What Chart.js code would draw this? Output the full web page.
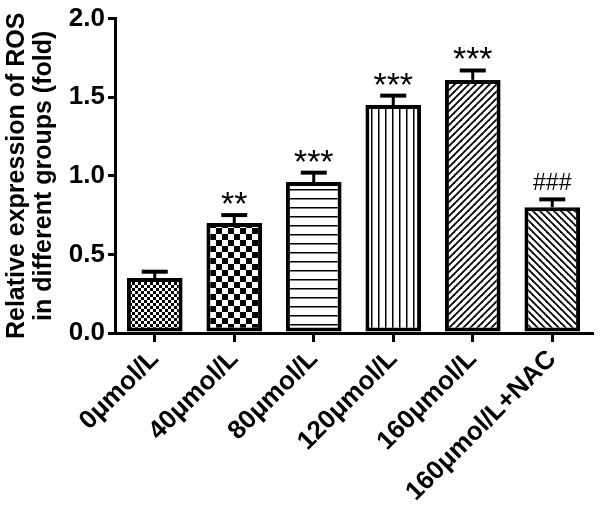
<!DOCTYPE html>
<html>
<head>
<meta charset="utf-8">
<script src="https://cdn.jsdelivr.net/npm/chart.js@4"></script>
<style>
html, body { margin: 0; padding: 0; background: #fff; }
</style>
</head>
<body>
<canvas id="graficoROS" width="600" height="506"></canvas>
<script>
var grupos   = ['0μmol/L', '40μmol/L', '80μmol/L', '120μmol/L', '160μmol/L', '160μmol/L+NAC'];
var medias   = [0.35, 0.70, 0.96, 1.45, 1.61, 0.80];
var errores  = [0.04, 0.05, 0.06, 0.06, 0.06, 0.05];
var marcas   = ['', '**', '***', '***', '***', '###'];
var tituloY  = ['Relative expression of ROS', 'in different groups (fold)'];
var FUENTE   = '"Liberation Sans", Arial, sans-serif';

/* ── patrones de relleno (uno por barra) ── */
function patron(tipo) {
    var c = document.createElement('canvas');
    var g = c.getContext('2d');
    var s = 6;
    if (tipo === 'grueso') s = 12;
    if (tipo === 'horiz') s = 9;
    if (tipo === 'vert') s = 7;
    if (tipo === 'diagA' || tipo === 'diagB') s = 7;
    c.width = s; c.height = s;
    g.fillStyle = '#fff';
    g.fillRect(0, 0, s, s);
    g.fillStyle = '#000';
    g.strokeStyle = '#000';
    if (tipo === 'fino' || tipo === 'grueso') {
        g.fillRect(0, 0, s / 2, s / 2);
        g.fillRect(s / 2, s / 2, s / 2, s / 2);
    } else if (tipo === 'horiz') {
        g.fillRect(0, 0, s, 1.5);
    } else if (tipo === 'vert') {
        g.fillRect(0, 0, 1.5, s);
    } else {
        g.lineWidth = 1.8;
        var segs = tipo === 'diagA'
            ? [[-1, s + 1, s + 1, -1], [-1, 1, 1, -1], [s - 1, s + 1, s + 1, s - 1]]
            : [[-1, -1, s + 1, s + 1], [-1, s - 1, 1, s + 1], [s - 1, -1, s + 1, 1]];
        segs.forEach(function (p) {
            g.beginPath(); g.moveTo(p[0], p[1]); g.lineTo(p[2], p[3]); g.stroke();
        });
    }
    return g.createPattern(c, 'repeat');
}

var rellenos = ['fino', 'grueso', 'horiz', 'vert', 'diagA', 'diagB'].map(patron);

/* ── barras de error (solo hacia arriba) y marcas de significancia ── */
var pluginError = {
    id: 'errorYMarcas',
    afterDatasetsDraw: function (chart) {
        var ctx = chart.ctx;
        var y = chart.scales.y;
        var meta = chart.getDatasetMeta(0);
        ctx.save();
        ctx.strokeStyle = '#000';
        ctx.fillStyle = '#000';
        meta.data.forEach(function (bar, i) {
            var yTop = y.getPixelForValue(medias[i] + errores[i]);
            ctx.lineWidth = 3;
            ctx.beginPath();
            ctx.moveTo(bar.x, bar.y);
            ctx.lineTo(bar.x, yTop);
            ctx.stroke();
            ctx.lineWidth = 4;
            ctx.beginPath();
            ctx.moveTo(bar.x - 13, yTop);
            ctx.lineTo(bar.x + 13, yTop);
            ctx.stroke();
            if (marcas[i]) {
                ctx.textAlign = 'center';
                ctx.textBaseline = 'alphabetic';
                if (marcas[i].charAt(0) === '*') {
                    ctx.font = '34px ' + FUENTE;
                    ctx.fillText(marcas[i], bar.x, yTop);
                } else {
                    ctx.font = '23px ' + FUENTE;
                    ctx.fillText(marcas[i], bar.x, yTop - 9);
                }
            }
        });
        ctx.restore();
    }
};

var ctx = document.getElementById('graficoROS');
var chartROS = new Chart(ctx, {
    type: 'bar',
    data: {
        labels: grupos,
        datasets: [{
            data: medias,
            backgroundColor: rellenos,
            borderColor: '#000',
            borderWidth: 4,
            borderSkipped: false,
            barPercentage: 0.7,
            categoryPercentage: 1
        }]
    },
    options: {
        responsive: false,
        animation: false,
        layout: { padding: { top: 17, right: 8, left: 0, bottom: 0 } },
        plugins: { legend: { display: false }, tooltip: { enabled: false } },
        scales: {
            x: {
                offset: true,
                grid: { drawOnChartArea: false, offset: false, tickLength: 9, lineWidth: 3, color: '#000' },
                border: { width: 3, color: '#000' },
                ticks: {
                    color: '#000', maxRotation: 45, minRotation: 45, padding: 2,
                    font: { family: FUENTE, size: 26, weight: 'bold' }
                },
                afterFit: function (s) { s.height = 173; }
            },
            y: {
                min: 0, max: 2,
                grid: { drawOnChartArea: false, tickLength: 7, lineWidth: 3, color: '#000' },
                border: { width: 3, color: '#000' },
                ticks: {
                    stepSize: 0.5, color: '#000', padding: 3,
                    font: { family: FUENTE, size: 26, weight: 'bold' },
                    callback: function (v) { return v.toFixed(1); }
                },
                title: {
                    display: true, text: tituloY, color: '#000', padding: { top: 3, bottom: 0 },
                    font: { family: FUENTE, size: 25, weight: 'bold', lineHeight: 1.1 }
                },
                afterFit: function (s) { s.width = 115; }
            }
        }
    },
    plugins: [pluginError]
});
</script>
</body>
</html>
